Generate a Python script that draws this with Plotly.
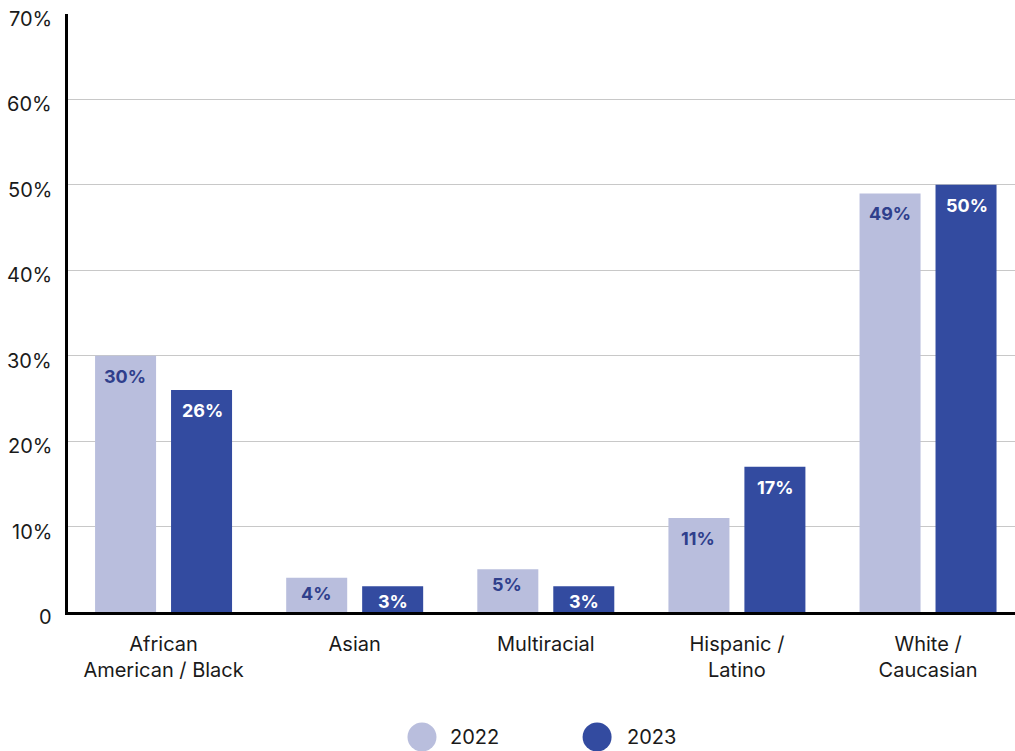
import plotly.graph_objects as go

categories = ["African<br>American / Black", "Asian", "Multiracial", "Hispanic /<br>Latino", "White /<br>Caucasian"]
values_2022 = [30, 4, 5, 11, 49]
values_2023 = [26, 3, 3, 17, 50]
tick_values = [0, 10, 20, 30, 40, 50, 60, 70]
tick_labels = ["0", "10%", "20%", "30%", "40%", "50%", "60%", "70%"]
series_names = ["2022", "2023"]

light = "#B9BEDD"
dark = "#334BA0"
label_dark = "#2F3F8C"
font_family = "Inter, Lato, sans-serif"

fig = go.Figure()
fig.add_trace(go.Bar(
    x=categories, y=values_2022, name=series_names[0],
    marker=dict(color=light, line=dict(width=0)),
    showlegend=False,
))
fig.add_trace(go.Bar(
    x=categories, y=values_2023, name=series_names[1],
    marker=dict(color=dark, line=dict(width=0)),
    showlegend=False,
))

# value labels sitting just inside the top of each bar
for values, shift, color in [(values_2022, -38.5, label_dark), (values_2023, 38.5, "white")]:
    for cat, v in zip(categories, values):
        fig.add_annotation(
            x=cat, y=v, text=f"<b>{v}%</b>", showarrow=False,
            xshift=shift, yanchor="top", yshift=-8 if v >= 10 else -3,
            font=dict(color=color, size=18, family=font_family),
        )

# y tick labels, set slightly below their gridlines
for tv, tl in zip(tick_values, tick_labels):
    fig.add_annotation(
        xref="paper", x=0, y=tv, text=tl, showarrow=False,
        xanchor="right", xshift=-14, yanchor="middle", yshift=-5,
        font=dict(size=20, color="#1a1a1a", family=font_family),
    )

# legend: large round swatches with year labels
legend_y = -0.209
for name, color, cx, tx in [(series_names[0], light, 0.3738, 0.4013),
                            (series_names[1], dark, 0.5587, 0.5882)]:
    fig.add_shape(
        type="circle", xref="paper", yref="paper",
        xsizemode="pixel", ysizemode="pixel", xanchor=cx, yanchor=legend_y,
        x0=-14.5, x1=14.5, y0=-14.5, y1=14.5,
        fillcolor=color, line=dict(width=0),
    )
    fig.add_annotation(
        xref="paper", yref="paper", x=tx, y=legend_y, text=name,
        showarrow=False, xanchor="left", yanchor="middle",
        font=dict(size=20, color="#1a1a1a", family=font_family),
    )

fig.update_layout(
    width=1015, height=751,
    margin=dict(l=68, r=0, t=14, b=139),
    paper_bgcolor="white", plot_bgcolor="white",
    barmode="group", bargap=0.205, bargroupgap=0.197,
    font=dict(family=font_family, size=20, color="#1a1a1a"),
    showlegend=False,
    xaxis=dict(
        range=[-0.5, 4.455],
        showline=True, linecolor="black", linewidth=2.5,
        ticks="", tickfont=dict(size=20), showgrid=False,
        ticklabelstandoff=12,
    ),
    yaxis=dict(
        range=[0, 70], tickvals=tick_values, showticklabels=False,
        showline=True, linecolor="black", linewidth=2.5,
        showgrid=True, gridcolor="#C8C8C8", gridwidth=1,
        zeroline=False, ticks="",
    ),
)

fig.write_html("out.html")
